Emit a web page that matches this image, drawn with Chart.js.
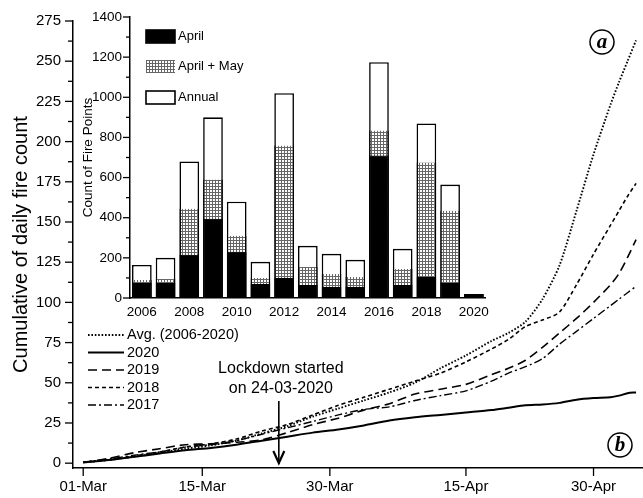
<!DOCTYPE html>
<html>
<head>
<meta charset="utf-8">
<script src="https://cdn.jsdelivr.net/npm/chart.js@4.4.1/dist/chart.umd.min.js"></script>
<style>
  body { margin: 0; background: #fff; }
  #wrap { position: relative; width: 643px; height: 498px; }
  #main { position: absolute; left: 0; top: 0; }
  #inset { position: absolute; left: 80px; top: 0; }
</style>
</head>
<body>
<div id="wrap">
  <canvas id="main" width="643" height="498"></canvas>
  <canvas id="inset" width="415" height="325"></canvas>
</div>
<script>
// ---- main chart data: days counted from 01-Mar ----
const days = [0, 3, 6, 9, 12, 15, 18, 21, 24, 27, 30, 33, 36, 39, 42, 45, 48, 50, 52, 54, 56, 58, 60, 62, 63, 64, 65];
const avgCount = [0.5, 2, 4, 6.5, 9, 11, 14, 18.5, 23, 29, 34, 39, 44, 50, 59, 67, 76, 81, 88, 102, 123, 157, 192, 223, 237, 250, 263];
const count2020 = [0.5, 2, 4, 6, 8, 9.5, 11.5, 14, 16.5, 19, 21, 23.5, 26.5, 28.5, 30, 31.5, 33, 34.5, 36, 36.5, 37.5, 39.5, 40.5, 41, 42, 43.5, 44];
const count2019 = [0.5, 3, 6.5, 9, 11.5, 12, 13, 14.5, 19, 24, 28, 33, 37, 43, 46, 49, 55, 59, 64, 72, 81, 90, 100, 111, 118, 128, 139];
const count2018 = [0.5, 2, 4.5, 7, 10, 12, 15, 20, 24, 30, 36, 41, 46, 51, 56, 63, 71, 77, 85, 89, 94, 111, 130, 148, 157, 166, 174];
const count2017 = [0.5, 2.5, 5, 7, 10, 11.5, 14, 18, 22, 26, 30, 33.5, 35, 39, 42, 45, 51, 56, 60, 65, 74, 82, 90, 98, 102, 106, 110];
const xTickDays = [0, 14, 29, 45, 60];
const xTickLabels = ['01-Mar', '15-Mar', '30-Mar', '15-Apr', '30-Apr'];
const lockdownDay = 23;

// ---- inset data ----
const years = ['2006', '2007', '2008', '2009', '2010', '2011', '2012', '2013', '2014', '2015', '2016', '2017', '2018', '2019', '2020'];
const aprilCount = [75, 75, 215, 395, 230, 70, 100, 65, 55, 55, 710, 65, 105, 75, 20];
const aprMayCount = [90, 95, 445, 590, 310, 100, 760, 155, 120, 105, 835, 145, 675, 435, 20];
const annualCount = [165, 200, 680, 900, 480, 180, 1020, 260, 220, 190, 1175, 245, 870, 565, 20];

Chart.defaults.font.family = "'Liberation Sans', Arial, sans-serif";
Chart.defaults.color = '#000';

const pts = arr => arr.map((v, i) => ({ x: days[i], y: v }));

function range(a, b, step) {
  const out = [];
  for (let v = a; v <= b + 1e-9; v += step) out.push(v);
  return out;
}

function line(ctx, x1, y1, x2, y2) {
  ctx.beginPath(); ctx.moveTo(x1, y1); ctx.lineTo(x2, y2); ctx.stroke();
}

// fine grid pattern for the April + May bars
const hatchCanvas = document.createElement('canvas');
hatchCanvas.width = 3; hatchCanvas.height = 3;
const hc = hatchCanvas.getContext('2d');
hc.fillStyle = '#fff'; hc.fillRect(0, 0, 3, 3);
hc.fillStyle = '#666'; hc.fillRect(0, 0, 3, 1); hc.fillRect(0, 0, 1, 3);
const hatch = hc.createPattern(hatchCanvas, 'repeat');

const mainDecor = {
  id: 'mainDecor',
  afterDraw(chart) {
    const { ctx, scales: { x, y } } = chart;
    ctx.save();
    ctx.strokeStyle = '#000';
    ctx.fillStyle = '#000';
    // tick marks
    ctx.lineWidth = 1.3;
    range(0, 275, 25).forEach(v => { const py = y.getPixelForValue(v); line(ctx, x.left - 8, py, x.left, py); });
    range(12.5, 262.5, 25).forEach(v => { const py = y.getPixelForValue(v); line(ctx, x.left - 5, py, x.left, py); });
    xTickDays.forEach(v => { const px = x.getPixelForValue(v); line(ctx, px, y.bottom, px, y.bottom + 8); });

    // legend
    const rowY = [335, 352.5, 370, 387.5, 405];
    ctx.font = "14.5px 'Liberation Sans', Arial, sans-serif";
    ctx.textBaseline = 'middle';
    chart.data.datasets.forEach((ds, i) => {
      ctx.save();
      ctx.lineWidth = ds.borderWidth;
      ctx.setLineDash(ds.borderDash || []);
      line(ctx, 88, rowY[i], 124, rowY[i]);
      ctx.restore();
      ctx.fillText(ds.label, 127, rowY[i]);
    });

    // lockdown annotation
    const ax = x.getPixelForValue(lockdownDay);
    ctx.font = "16px 'Liberation Sans', Arial, sans-serif";
    ctx.textAlign = 'center';
    ctx.fillText('Lockdown started', ax + 2, 369);
    ctx.fillText('on 24-03-2020', ax + 2, 389);
    ctx.lineWidth = 1.6;
    line(ctx, ax, 401, ax, y.bottom - 4);
    ctx.lineWidth = 2.2;
    ctx.beginPath();
    ctx.moveTo(ax - 5.5, y.bottom - 17);
    ctx.lineTo(ax, y.bottom - 5);
    ctx.lineTo(ax + 5.5, y.bottom - 17);
    ctx.stroke();

    // circled panel labels
    [['a', 602, 42], ['b', 620, 445]].forEach(([t, cx, cy]) => {
      ctx.lineWidth = 1.5;
      ctx.beginPath(); ctx.arc(cx, cy, 12, 0, Math.PI * 2); ctx.stroke();
      ctx.font = "italic bold 21px 'Liberation Serif', serif";
      ctx.fillText(t, cx, cy + 1);
    });
    ctx.restore();
  }
};

new Chart(document.getElementById('main'), {
  type: 'line',
  data: {
    datasets: [
      { label: 'Avg. (2006-2020)', data: pts(avgCount), borderDash: [1.6, 1.8], borderWidth: 1.9 },
      { label: '2020', data: pts(count2020), borderWidth: 2 },
      { label: '2019', data: pts(count2019), borderDash: [9, 5], borderWidth: 1.6 },
      { label: '2018', data: pts(count2018), borderDash: [4, 3], borderWidth: 1.6 },
      { label: '2017', data: pts(count2017), borderDash: [8, 3, 2, 3], borderWidth: 1.4 }
    ].map(d => Object.assign({ borderColor: '#000', pointRadius: 0, tension: 0.25, fill: false }, d))
  },
  options: {
    responsive: false,
    animation: false,
    devicePixelRatio: 1,
    layout: { padding: { top: 19, right: 1, left: 0, bottom: 0 } },
    plugins: { legend: { display: false }, tooltip: { enabled: false } },
    scales: {
      x: {
        type: 'linear', min: -1.2, max: 65.7,
        grid: { display: false, drawTicks: false },
        border: { color: '#000', width: 1.5 },
        afterBuildTicks: s => { s.ticks = xTickDays.map(v => ({ value: v })); },
        afterFit: s => { s.height = 30; },
        ticks: {
          padding: 10, maxRotation: 0, autoSkip: false,
          font: { size: 15 },
          callback: v => xTickLabels[xTickDays.indexOf(v)]
        }
      },
      y: {
        min: -3, max: 275,
        grid: { display: false, drawTicks: false },
        border: { color: '#000', width: 1.5 },
        afterBuildTicks: s => { s.ticks = range(0, 275, 25).map(v => ({ value: v })); },
        afterFit: s => { s.width = 73; },
        ticks: { padding: 12, font: { size: 15 }, callback: v => String(v) },
        title: {
          display: true, text: 'Cumulative of daily fire count',
          font: { size: 20 }, padding: { top: 9, bottom: 0 }
        }
      }
    }
  },
  plugins: [mainDecor]
});

const insetDecor = {
  id: 'insetDecor',
  afterDraw(chart) {
    const { ctx, scales: { x, y } } = chart;
    ctx.save();
    ctx.strokeStyle = '#000';
    ctx.lineWidth = 1.3;
    range(0, 1400, 200).forEach(v => { const py = y.getPixelForValue(v); line(ctx, x.left - 7, py, x.left, py); });
    range(100, 1300, 200).forEach(v => { const py = y.getPixelForValue(v); line(ctx, x.left - 4, py, x.left, py); });

    // legend
    const items = [
      { label: 'April', fill: '#000', stroke: true },
      { label: 'April + May', fill: hatch, stroke: false },
      { label: 'Annual', fill: '#fff', stroke: true }
    ];
    const rows = [30, 60, 91];
    ctx.font = "13px 'Liberation Sans', Arial, sans-serif";
    ctx.textBaseline = 'middle';
    items.forEach((it, i) => {
      ctx.fillStyle = it.fill;
      ctx.fillRect(66, rows[i], 29, 13);
      if (it.stroke) { ctx.lineWidth = 1.6; ctx.strokeRect(66, rows[i], 29, 13); }
      ctx.fillStyle = '#000';
      ctx.fillText(it.label, 98, rows[i] + 6.5);
    });
    ctx.restore();
  }
};

new Chart(document.getElementById('inset'), {
  type: 'bar',
  data: {
    labels: years,
    datasets: [
      { label: 'April', data: aprilCount, backgroundColor: '#000', borderColor: '#000', borderWidth: 1 },
      { label: 'April + May', data: aprMayCount, backgroundColor: hatch, borderColor: '#000',
        borderWidth: { left: 1.5, right: 1.5, top: 0, bottom: 0 } },
      { label: 'Annual', data: annualCount, backgroundColor: '#fff', borderColor: '#000', borderWidth: 1.6 }
    ].map(d => Object.assign({ grouped: false, barPercentage: 0.83, categoryPercentage: 1 }, d))
  },
  options: {
    responsive: false,
    animation: false,
    devicePixelRatio: 1,
    layout: { padding: { top: 17, right: 5, left: 0, bottom: 0 } },
    plugins: { legend: { display: false }, tooltip: { enabled: false } },
    scales: {
      x: {
        grid: { display: false, drawTicks: false },
        border: { color: '#000', width: 1.5 },
        afterFit: s => { s.height = 27; },
        ticks: {
          padding: 6, maxRotation: 0, autoSkip: false,
          font: { size: 13.5 },
          callback: (v, i) => (i % 2 === 0 ? years[i] : '')
        }
      },
      y: {
        min: 0, max: 1400,
        grid: { display: false, drawTicks: false },
        border: { color: '#000', width: 1.5 },
        afterBuildTicks: s => { s.ticks = range(0, 1400, 200).map(v => ({ value: v })); },
        afterFit: s => { s.width = 50; },
        ticks: { padding: 8, font: { size: 13.5 }, callback: v => String(v) },
        title: {
          display: true, text: 'Count of Fire Points',
          font: { size: 13.5 }, padding: { top: 0, bottom: 0 }
        }
      }
    }
  },
  plugins: [insetDecor]
});
</script>
</body>
</html>
